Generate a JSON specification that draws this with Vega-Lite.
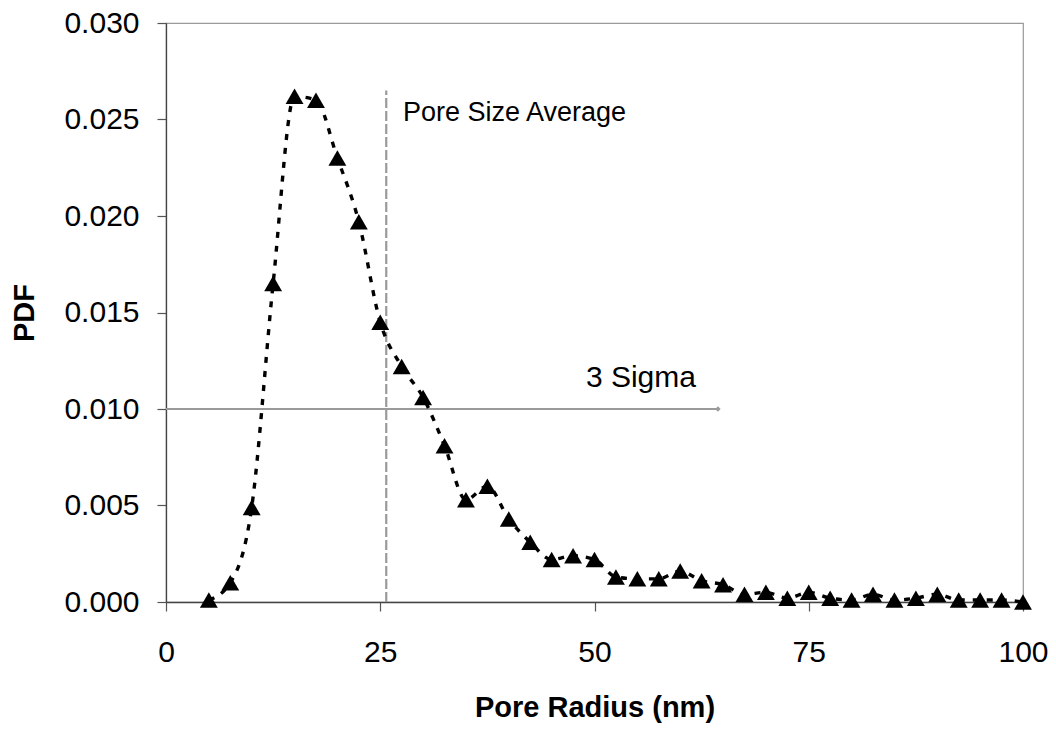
{
  "$schema": "https://vega.github.io/schema/vega-lite/v6.json",
  "autosize": "none",
  "width": 857,
  "height": 579,
  "padding": {"left": 166, "top": 23, "right": 33, "bottom": 127},
  "background": "white",
  "config": {
    "view": {"stroke": "#9a9a9a", "strokeWidth": 1.2},
    "font": "Liberation Sans",
    "axis": {
      "grid": false,
      "labelFlush": false,
      "labelOverlap": false,
      "domainColor": "#444",
      "domainWidth": 1.3,
      "tickColor": "#555",
      "tickWidth": 1.2,
      "tickSize": 9,
      "labelFont": "Liberation Sans",
      "labelFontSize": 30,
      "labelColor": "black",
      "titleFont": "Liberation Sans",
      "titleFontSize": 29,
      "titleFontWeight": "bold",
      "titleColor": "black"
    }
  },
  "datasets": {
    "pdf": [
      {"radius": 5, "pdf": 0.0001},
      {"radius": 7.5, "pdf": 0.0010},
      {"radius": 10, "pdf": 0.0049},
      {"radius": 12.5, "pdf": 0.0165},
      {"radius": 15, "pdf": 0.0262},
      {"radius": 17.5, "pdf": 0.0260},
      {"radius": 20, "pdf": 0.0230},
      {"radius": 22.5, "pdf": 0.0197},
      {"radius": 25, "pdf": 0.0145},
      {"radius": 27.5, "pdf": 0.0122},
      {"radius": 30, "pdf": 0.0106},
      {"radius": 32.5, "pdf": 0.0081},
      {"radius": 35, "pdf": 0.0053},
      {"radius": 37.5, "pdf": 0.0060},
      {"radius": 40, "pdf": 0.0043},
      {"radius": 42.5, "pdf": 0.0031},
      {"radius": 45, "pdf": 0.0022},
      {"radius": 47.5, "pdf": 0.0024},
      {"radius": 50, "pdf": 0.0022},
      {"radius": 52.5, "pdf": 0.0013},
      {"radius": 55, "pdf": 0.0012},
      {"radius": 57.5, "pdf": 0.0012},
      {"radius": 60, "pdf": 0.0016},
      {"radius": 62.5, "pdf": 0.0011},
      {"radius": 65, "pdf": 0.0009},
      {"radius": 67.5, "pdf": 0.0004},
      {"radius": 70, "pdf": 0.0005},
      {"radius": 72.5, "pdf": 0.0002},
      {"radius": 75, "pdf": 0.0005},
      {"radius": 77.5, "pdf": 0.0002},
      {"radius": 80, "pdf": 0.0001},
      {"radius": 82.5, "pdf": 0.0004},
      {"radius": 85, "pdf": 0.0001},
      {"radius": 87.5, "pdf": 0.0002},
      {"radius": 90, "pdf": 0.0004},
      {"radius": 92.5, "pdf": 0.0001},
      {"radius": 95, "pdf": 0.0001},
      {"radius": 97.5, "pdf": 0.0001},
      {"radius": 100, "pdf": 0.0000}
    ],
    "avg": [{"radius": 25.7, "pdf": 0, "pdf2": 0.0265}],
    "sigma": [{"radius": 0, "radius2": 64.4, "pdf": 0.010}],
    "sigmaEnd": [{"radius": 64.4, "pdf": 0.010}],
    "labels": [
      {"radius": 27.65, "pdf": 0.0249, "label": "Pore Size Average", "size": 27},
      {"radius": 49.0, "pdf": 0.01114, "label": "3 Sigma", "size": 30}
    ]
  },
  "encoding": {
    "x": {
      "field": "radius", "type": "quantitative",
      "scale": {"domain": [0, 100], "nice": false, "zero": false},
      "axis": {"values": [0, 25, 50, 75, 100], "labelPadding": 26, "titlePadding": 26, "title": "Pore Radius (nm)"}
    },
    "y": {
      "field": "pdf", "type": "quantitative",
      "scale": {"domain": [0, 0.03], "nice": false, "zero": false},
      "axis": {"values": [0, 0.005, 0.01, 0.015, 0.02, 0.025, 0.03], "format": ".3f", "labelPadding": 18, "titlePadding": 24, "title": "PDF"}
    }
  },
  "layer": [
    {
      "data": {"name": "avg"},
      "mark": {"type": "rule", "color": "#9a9a9a", "strokeWidth": 2.2, "strokeDash": [10, 3]},
      "encoding": {"y2": {"field": "pdf2"}}
    },
    {
      "data": {"name": "sigma"},
      "mark": {"type": "rule", "color": "#9a9a9a", "strokeWidth": 2.2},
      "encoding": {"x2": {"field": "radius2"}}
    },
    {
      "data": {"name": "sigmaEnd"},
      "mark": {"type": "point", "shape": "diamond", "filled": true, "color": "#9a9a9a", "opacity": 1, "size": 30}
    },
    {
      "data": {"name": "pdf"},
      "mark": {"type": "line", "color": "black", "strokeWidth": 3.4, "strokeDash": [6, 8], "interpolate": "monotone"}
    },
    {
      "data": {"name": "pdf"},
      "mark": {"type": "point", "shape": "triangle-up", "filled": true, "color": "black", "opacity": 1, "size": 320}
    },
    {
      "data": {"name": "labels"},
      "mark": {"type": "text", "align": "left", "baseline": "alphabetic", "color": "black", "font": "Liberation Sans"},
      "encoding": {
        "text": {"field": "label"},
        "size": {"field": "size", "type": "quantitative", "scale": null}
      }
    }
  ]
}
